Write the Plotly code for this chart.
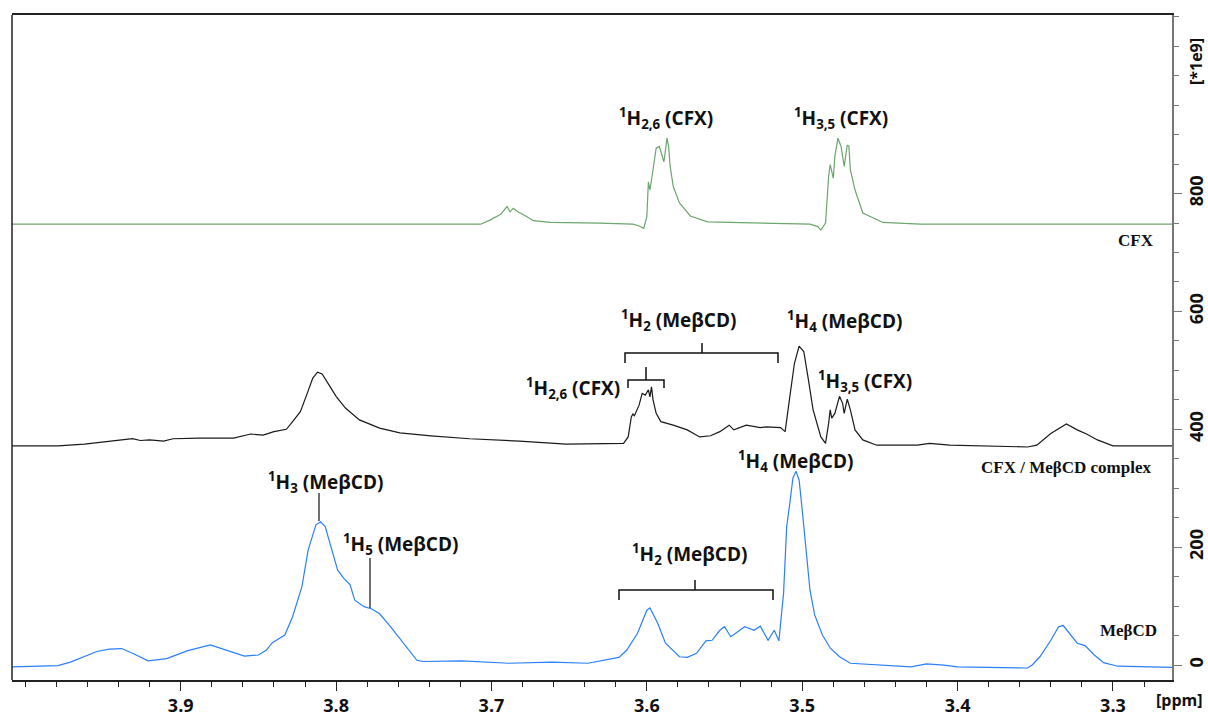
import plotly.graph_objects as go

# ---------------- data (ppm, intensity in units of 1e9) ----------------
meb_ppm = [4.009, 3.979, 3.971, 3.954, 3.946, 3.938, 3.931, 3.921, 3.909, 3.896,
           3.881, 3.870, 3.859, 3.850, 3.845, 3.841, 3.833, 3.828, 3.822, 3.818,
           3.813, 3.810, 3.807, 3.804, 3.799, 3.795, 3.791, 3.788, 3.782, 3.777,
           3.772, 3.765, 3.756, 3.748, 3.744, 3.719, 3.689, 3.661, 3.638, 3.629,
           3.618, 3.613, 3.606, 3.600, 3.598, 3.593, 3.588, 3.579, 3.574, 3.568,
           3.562, 3.558, 3.553, 3.550, 3.546, 3.537, 3.531, 3.527, 3.522, 3.518,
           3.515, 3.512, 3.510, 3.508, 3.506, 3.504, 3.502, 3.500, 3.497, 3.495,
           3.492, 3.487, 3.482, 3.476, 3.469, 3.430, 3.420, 3.409, 3.400, 3.355,
           3.352, 3.347, 3.340, 3.335, 3.332, 3.329, 3.323, 3.318, 3.312, 3.306,
           3.297, 3.262]
meb_int = [-3, -1, 5, 23, 27, 28, 20, 7, 11, 24,
           34, 24, 15, 17, 25, 38, 51, 82, 133, 195,
           238, 243, 235, 207, 161, 147, 136, 110, 99, 95,
           87, 65, 34, 8, 6, 7, 3, 5, 3, 8,
           13, 25, 54, 93, 97, 71, 37, 14, 13, 20,
           41, 42, 59, 65, 48, 65, 59, 66, 42, 59,
           41, 122, 235, 274, 317, 329, 314, 263, 187, 127,
           85, 51, 29, 14, 3, -3, 2, 0, -3, -5,
           0, 14, 42, 65, 67, 57, 37, 33, 17, 4,
           -2, -4]

cpx_ppm = [4.009, 3.979, 3.962, 3.952, 3.941, 3.931, 3.926, 3.920, 3.911, 3.905,
           3.888, 3.866, 3.855, 3.847, 3.840, 3.832, 3.828, 3.823, 3.819, 3.815,
           3.812, 3.809, 3.805, 3.800, 3.794, 3.785, 3.772, 3.759, 3.739, 3.714,
           3.682, 3.652, 3.615, 3.612, 3.610, 3.609, 3.608, 3.605, 3.603, 3.601,
           3.599, 3.598, 3.597, 3.596, 3.594, 3.591, 3.583, 3.574, 3.566, 3.559,
           3.553, 3.547, 3.544, 3.536, 3.527, 3.523, 3.514, 3.511, 3.508, 3.505,
           3.502, 3.499, 3.496, 3.493, 3.488, 3.485, 3.483, 3.482, 3.481, 3.479,
           3.476, 3.474, 3.473, 3.471, 3.469, 3.466, 3.461, 3.452, 3.426, 3.418,
           3.405, 3.355, 3.349, 3.340, 3.330, 3.323, 3.317, 3.310, 3.300, 3.262]
cpx_int = [372, 372, 375, 378, 382, 384, 381, 382, 380, 384,
           385, 385, 392, 390, 396, 400, 413, 430, 458, 487,
           497, 494, 477, 456, 436, 416, 402, 394, 389, 384,
           380, 375, 376, 387, 421, 426, 423, 441, 461, 458,
           467, 455, 472, 450, 427, 413, 407, 399, 387, 389,
           396, 407, 399, 407, 403, 404, 403, 396, 455, 512,
           541, 532, 484, 433, 387, 376, 410, 433, 419, 427,
           456, 444, 427, 451, 433, 399, 382, 373, 373, 376,
           373, 370, 373, 393, 409, 399, 392, 382, 372, 372]

cfx_ppm = [4.009, 3.707, 3.701, 3.694, 3.690, 3.688, 3.686, 3.683, 3.678, 3.673,
           3.662, 3.630, 3.609, 3.605, 3.602, 3.600, 3.599, 3.598, 3.597, 3.594,
           3.592, 3.590, 3.589, 3.587, 3.586, 3.585, 3.583, 3.579, 3.572, 3.561,
           3.523, 3.495, 3.490, 3.488, 3.485, 3.483, 3.482, 3.480, 3.479, 3.477,
           3.475, 3.473, 3.471, 3.470, 3.469, 3.466, 3.461, 3.448, 3.424, 3.262]
cfx_int = [748, 748, 755, 765, 778, 769, 775, 769, 762, 754,
           751, 750, 748, 745, 741, 761, 820, 806, 823, 877,
           880, 865, 854, 894, 880, 846, 812, 784, 762, 752,
           750, 748, 744, 738, 750, 829, 849, 826, 863, 894,
           880, 846, 882, 881, 840, 806, 767, 751, 748, 748]

x_tick_vals = [3.9, 3.8, 3.7, 3.6, 3.5, 3.4, 3.3]
x_tick_text = ["3.9", "3.8", "3.7", "3.6", "3.5", "3.4", "3.3"]
y_tick_vals = [0, 200, 400, 600, 800]
y_tick_text = ["0", "200", "400", "600", "800"]

# ---------------- layout helpers (pixel -> paper) ----------------
W, H = 1208, 718
L, R, T, B = 12, 1172, 15, 680


def px(x):
    return (x - L) / (R - L)


def py(y):
    return (B - y) / (B - T)


LABEL_FONT = dict(family="Open Sans", size=19, color="#111", weight="bold")
SERIF_FONT = dict(family="Liberation Serif", size=17, color="#111", weight="bold")
TICK_FONT = dict(family="Open Sans", size=18, color="#111", weight="bold")
UNIT_FONT = dict(family="Open Sans", size=16, color="#111", weight="bold")

fig = go.Figure()
fig.add_trace(go.Scatter(x=cfx_ppm, y=cfx_int, mode="lines",
                         line=dict(color="#6da56d", width=1.2), name="CFX"))
fig.add_trace(go.Scatter(x=cpx_ppm, y=cpx_int, mode="lines",
                         line=dict(color="#1a1a1a", width=1.2), name="CFX / MeβCD complex"))
fig.add_trace(go.Scatter(x=meb_ppm, y=meb_int, mode="lines",
                         line=dict(color="#2a7fff", width=1.2), name="MeβCD"))

annotations = []


def ann(text, x, y, font, angle=0, xanchor="center"):
    annotations.append(dict(text=text, x=px(x), y=py(y), xref="paper", yref="paper",
                            xanchor=xanchor, yanchor="middle", showarrow=False,
                            font=font, textangle=angle))


# CFX labels
ann("<sup>1</sup>H<sub>2,6</sub> (CFX)", 666, 118, LABEL_FONT)
ann("<sup>1</sup>H<sub>3,5</sub> (CFX)", 841, 118, LABEL_FONT)
ann("CFX", 1136, 240, SERIF_FONT)
# complex labels
ann("<sup>1</sup>H<sub>2</sub> (MeβCD)", 678, 320, LABEL_FONT)
ann("<sup>1</sup>H<sub>2,6</sub> (CFX)", 573, 388, LABEL_FONT)
ann("<sup>1</sup>H<sub>4</sub> (MeβCD)", 844, 321, LABEL_FONT)
ann("<sup>1</sup>H<sub>3,5</sub> (CFX)", 865, 381, LABEL_FONT)
ann("CFX / MeβCD complex", 1066, 468, SERIF_FONT)
# MeβCD labels
ann("<sup>1</sup>H<sub>3</sub> (MeβCD)", 325, 482, LABEL_FONT)
ann("<sup>1</sup>H<sub>5</sub> (MeβCD)", 400, 544, LABEL_FONT)
ann("<sup>1</sup>H<sub>2</sub> (MeβCD)", 689, 554, LABEL_FONT)
ann("<sup>1</sup>H<sub>4</sub> (MeβCD)", 795, 461, LABEL_FONT)
ann("MeβCD", 1128, 630, SERIF_FONT)
# axis unit labels
ann("[ppm]", 1205, 700, UNIT_FONT, xanchor="right")
ann("[*1e9]", 1196, 62, UNIT_FONT, angle=-90)

shapes = []


def path(points_list, width=1.5):
    d = ""
    for pts in points_list:
        d += "M %f %f " % (px(pts[0][0]), py(pts[0][1]))
        for (x, y) in pts[1:]:
            d += "L %f %f " % (px(x), py(y))
    shapes.append(dict(type="path", path=d, xref="paper", yref="paper",
                       line=dict(color="#111", width=width)))


def bracket(x0, x1, y, drop, xc, rise):
    path([[(x0, y + drop), (x0, y), (x1, y), (x1, y + drop)],
          [(xc, y), (xc, y - rise)]])


bracket(625, 778, 353, 10, 702, 10)
bracket(628, 664, 380, 8, 646, 13)
bracket(619, 773, 590, 10, 695, 10)
path([[(319, 493), (319, 521)]], width=1.2)
path([[(370, 558), (370, 608)]], width=1.2)
# left border
shapes.append(dict(type="line", x0=0, x1=0, y0=0, y1=1, xref="paper", yref="paper",
                   line=dict(color="#222", width=1.5)))

fig.update_layout(
    width=W, height=H,
    margin=dict(l=L, r=W - R, t=T, b=H - B, autoexpand=False),
    paper_bgcolor="white", plot_bgcolor="white",
    showlegend=False,
    annotations=annotations,
    shapes=shapes,
    xaxis=dict(range=[4.0086, 3.262], showgrid=False, zeroline=False, automargin=False,
               showline=True, linecolor="#222", linewidth=1.5, mirror=True,
               ticks="outside", ticklen=9, tickcolor="#222", tickwidth=1.2,
               tickmode="array", tickvals=x_tick_vals, ticktext=x_tick_text,
               tickfont=TICK_FONT,
               minor=dict(tickmode="linear", tick0=0, dtick=0.02, ticks="outside",
                          ticklen=5, tickcolor="#222", tickwidth=1.2)),
    yaxis=dict(range=[-25.4, 1103], side="right", showgrid=False, zeroline=False,
               automargin=False,
               showline=True, linecolor="#777", linewidth=1.5,
               ticks="outside", ticklen=8, tickcolor="#777", tickwidth=1.2,
               tickmode="array", tickvals=y_tick_vals, ticktext=y_tick_text,
               tickangle=-90, tickfont=TICK_FONT,
               minor=dict(tickmode="linear", tick0=0, dtick=50, ticks="outside",
                          ticklen=5, tickcolor="#777", tickwidth=1.2)),
)

fig.write_html("out.html")
